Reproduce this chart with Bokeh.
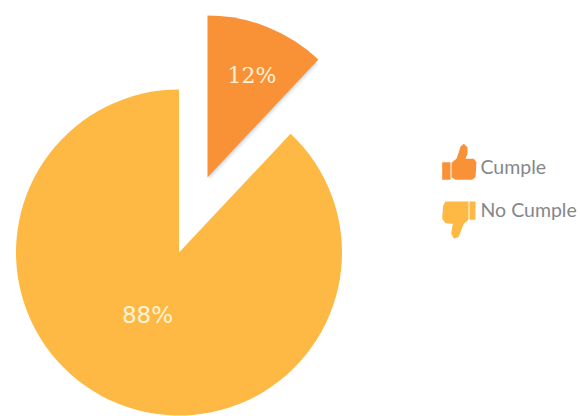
import math
from bokeh.core.properties import value
from bokeh.embed import file_html
from bokeh.models import Range1d
from bokeh.plotting import figure
from bokeh.resources import INLINE

categories = ["Cumple", "No Cumple"]
shares = [12, 88]
share_labels = ["12%", "88%"]
colors = ["#F99236", "#FDB943"]
text_color = "#FFF3D6"
legend_color = "#85878A"

WIDTH, HEIGHT = 580, 416


def Y(v):
    # canvas positions are measured from the top edge
    return HEIGHT - v


p = figure(width=WIDTH, height=HEIGHT, output_backend="svg", toolbar_location=None,
           x_range=Range1d(0, WIDTH), y_range=Range1d(0, HEIGHT),
           min_border=0, outline_line_color=None, background_fill_color="white",
           border_fill_color="white")
p.axis.visible = False
p.grid.visible = False

top = math.pi / 2
split = top - 2 * math.pi * shares[0] / sum(shares)

# soft shadow under the pulled-out slice
for off, alpha in ((3, 0.06), (2, 0.10), (1, 0.16)):
    p.wedge(x=[207 + off], y=[Y(177 + off)], radius=158, start_angle=[top], end_angle=[split],
            direction="clock", fill_color="#7C8FA8", fill_alpha=alpha, line_color=None)

p.wedge(x=[207], y=[Y(177)], radius=162, start_angle=[top], end_angle=[split],
        direction="clock", fill_color=colors[0], line_color=None)
p.wedge(x=[178.5], y=[Y(252)], radius=163, start_angle=[split], end_angle=[top],
        direction="clock", fill_color=colors[1], line_color=None)

p.text(x=[251.5], y=[Y(75)], text=[share_labels[0]], text_color=text_color,
       text_font=value("DejaVu Serif"), text_font_size="22px", text_align="center",
       text_baseline="middle")
p.text(x=[147], y=[Y(314)], text=[share_labels[1]], text_color=text_color,
       text_font=value("DejaVu Sans"), text_font_size="23px", text_align="center",
       text_baseline="middle")


def icon_shape(points):
    # outline points are given on a 3x grid anchored at the legend corner
    return [420 + a / 3 for a, _ in points], [Y(130 + b / 3) for _, b in points]


# thumbs-up icon
p.patch(*icon_shape([(65, 95), (90, 95), (90, 148), (65, 148)]), fill_color=colors[0], line_color=None)
p.patch(*icon_shape([(93, 97), (108, 85), (115, 65), (120, 48), (130, 40), (141, 50), (141, 70),
                     (135, 85), (160, 85), (168, 95), (165, 140), (155, 148), (105, 148), (93, 140)]),
        fill_color=colors[0], line_color=None)

# thumbs-down icon
p.patch(*icon_shape([(147, 213), (165, 213), (165, 268), (147, 268)]), fill_color=colors[1], line_color=None)
p.patch(*icon_shape([(75, 213), (144, 213), (144, 268), (130, 280), (122, 300), (114, 320), (100, 324),
                     (92, 310), (97, 280), (75, 278), (65, 265), (68, 225)]),
        fill_color=colors[1], line_color=None)

p.text(x=[480, 480], y=[Y(166), Y(209)], text=categories, text_color=legend_color,
       text_font=value("Lato"), text_font_size="19.5px", text_align="left", text_baseline="middle")

open("out.html", "w").write(file_html(p, INLINE))
